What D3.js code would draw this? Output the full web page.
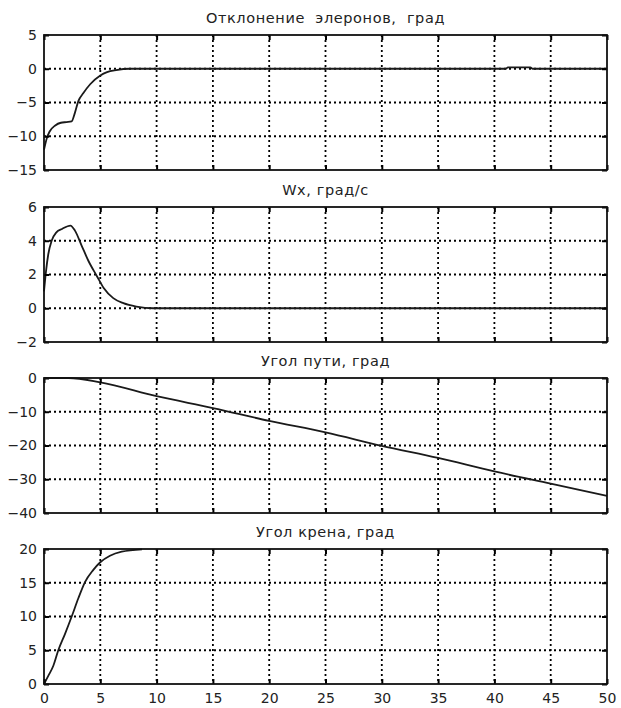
<!DOCTYPE html>
<html>
<head>
<meta charset="utf-8">
<script src="https://cdn.jsdelivr.net/npm/d3@7"></script>
<style>
  body { margin: 0; background: #fff; }
  svg { display: block; }
  .tick text { font-family: "DejaVu Sans", sans-serif; font-size: 14px; fill: #222; }
  .panel-title { font-family: "DejaVu Sans", sans-serif; font-size: 14.5px; letter-spacing: 0.6px; fill: #222; white-space: pre; }
</style>
</head>
<body>
<div id="chart"></div>
<script>
// ---- Data (time, s)
const titles = ['Отклонение  элеронов,  град', 'Wx, град/с', 'Угол пути, град', 'Угол крена, град'];
const xTicks = [0, 5, 10, 15, 20, 25, 30, 35, 40, 45, 50];

const aileronT = [0, 0.25, 0.5, 1, 1.5, 2, 2.45, 2.75, 3.05, 3.5, 4.1, 5, 5.6, 6.4, 7.6, 41, 41.2, 43.2, 43.4, 50];
const aileronV = [-12, -10.3, -9.3, -8.4, -8.0, -7.9, -7.8, -6.5, -4.8, -3.6, -2.3, -1.0, -0.5, -0.2, 0, 0, 0.2, 0.2, 0, 0];

const wxT = [0, 0.18, 0.38, 0.68, 1.1, 1.6, 2.35, 2.75, 3.35, 3.95, 4.7, 5.3, 6.15, 7.05, 8.2, 9.7, 50];
const wxV = [1.0, 2.2, 3.2, 4.0, 4.5, 4.7, 4.9, 4.6, 3.7, 2.8, 1.9, 1.2, 0.6, 0.3, 0.1, 0, 0];

const pathT = [0, 2.2, 5, 10, 15, 20, 25, 30, 35, 40, 45, 50];
const pathV = [0, 0, -1.3, -5.4, -8.9, -12.7, -16.1, -20.1, -23.7, -27.7, -31.3, -34.9];

const rollT = [0, 0.38, 0.83, 1.27, 1.86, 2.46, 3.05, 3.64, 4.38, 4.97, 5.86, 6.9, 8.7];
const rollV = [0, 1.2, 2.7, 5.0, 7.4, 10.0, 12.7, 15.1, 16.9, 18.0, 19.0, 19.6, 19.95];

const panels = [
  { title: titles[0], t: aileronT, v: aileronV, domain: [-15, 5], ticks: [-15, -10, -5, 0, 5] },
  { title: titles[1], t: wxT, v: wxV, domain: [-2, 6], ticks: [-2, 0, 2, 4, 6] },
  { title: titles[2], t: pathT, v: pathV, domain: [-40, 0], ticks: [-40, -30, -20, -10, 0] },
  { title: titles[3], t: rollT, v: rollV, domain: [0, 20], ticks: [0, 5, 10, 15, 20] }
];

// ---- Layout
const W = 621, H = 708;
const left = 44, right = 607;
const tops = [35, 207, 378, 549];
const ph = 135;

const svg = d3.select('#chart').append('svg').attr('width', W).attr('height', H);

const x = d3.scaleLinear().domain([0, 50]).range([left, right]);

panels.forEach((p, i) => {
  const top = tops[i];
  const y = d3.scaleLinear().domain(p.domain).range([top + ph, top]);
  const g = svg.append('g');
  const last = i === panels.length - 1;

  // ---- grid (dotted)
  g.append('g').selectAll('line').data(xTicks.slice(1, -1)).join('line')
    .attr('x1', d => x(d)).attr('x2', d => x(d))
    .attr('y1', top).attr('y2', top + ph)
    .attr('stroke', '#000').attr('stroke-width', 1.8).attr('stroke-dasharray', '2,3');
  g.append('g').selectAll('line').data(p.ticks.slice(1, -1)).join('line')
    .attr('x1', left).attr('x2', right)
    .attr('y1', d => y(d)).attr('y2', d => y(d))
    .attr('stroke', '#000').attr('stroke-width', 1.8).attr('stroke-dasharray', '2,3');

  // ---- data line
  g.append('path')
    .datum(p.t.map((t, k) => [t, p.v[k]]))
    .attr('fill', 'none').attr('stroke', '#1a1a1a').attr('stroke-width', 1.8)
    .attr('stroke-linejoin', 'round')
    .attr('d', d3.line().x(d => x(d[0])).y(d => y(d[1])).curve(d3.curveMonotoneX));

  // ---- axes (inward ticks on all four sides)
  g.append('g').attr('transform', `translate(${left},0)`)
    .call(d3.axisLeft(y).tickValues(p.ticks).tickSize(-5).tickPadding(7).tickSizeOuter(0));
  g.append('g').attr('transform', `translate(${right},0)`)
    .call(d3.axisRight(y).tickValues(p.ticks).tickSize(-5).tickFormat('').tickSizeOuter(0));
  g.append('g').attr('transform', `translate(0,${top + ph})`)
    .call(d3.axisBottom(x).tickValues(xTicks).tickSize(-5).tickPadding(9).tickSizeOuter(0)
      .tickFormat(last ? d3.format('d') : ''));
  g.append('g').attr('transform', `translate(0,${top})`)
    .call(d3.axisTop(x).tickValues(xTicks).tickSize(-5).tickFormat('').tickSizeOuter(0));
  g.selectAll('.domain').remove();
  g.selectAll('.tick line').attr('stroke', '#000').attr('stroke-width', 2);

  // ---- frame
  g.append('rect').attr('x', left).attr('y', top).attr('width', right - left).attr('height', ph)
    .attr('fill', 'none').attr('stroke', '#111').attr('stroke-width', 1.8);

  // ---- title
  g.append('text').attr('class', 'panel-title')
    .attr('x', (left + right) / 2).attr('y', top - 12)
    .attr('text-anchor', 'middle').text(p.title);
});
</script>
</body>
</html>
